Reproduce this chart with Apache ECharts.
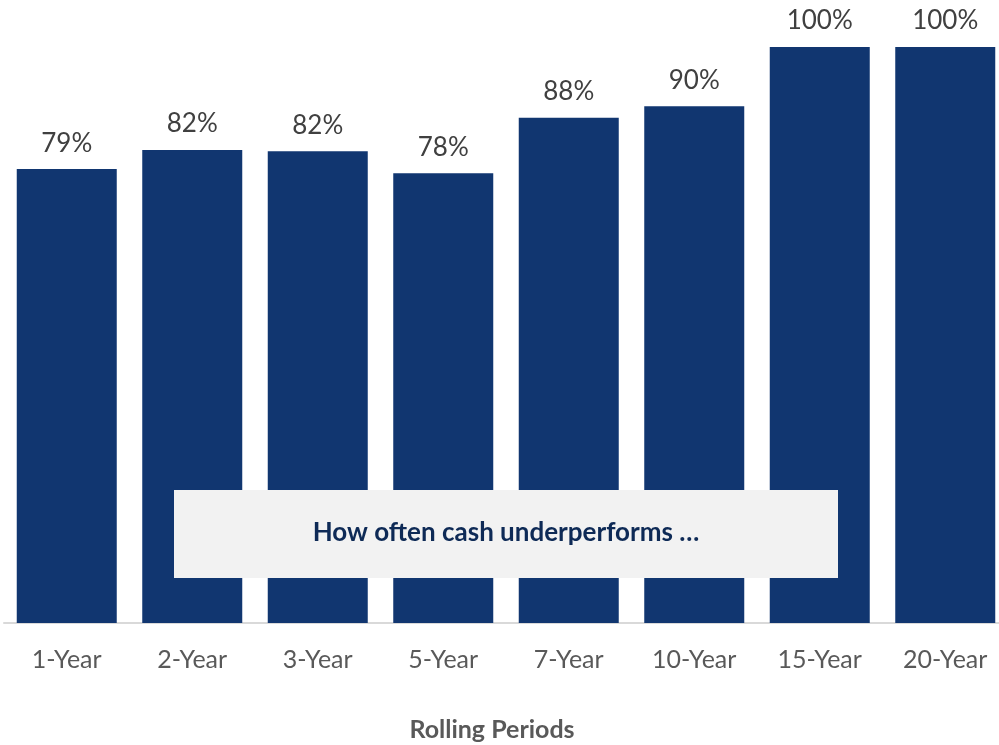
<!DOCTYPE html>
<html><head><meta charset="utf-8">
<script src="https://cdn.jsdelivr.net/npm/echarts@6/dist/echarts.min.js"></script>
<style>html,body{margin:0;padding:0;background:#fff}#c{width:999px;height:745px}</style>
</head><body><div id="c"></div>
<script>
const categories = ['1-Year','2-Year','3-Year','5-Year','7-Year','10-Year','15-Year','20-Year'];
const values = [0.788, 0.821, 0.819, 0.781, 0.877, 0.897, 1.0, 1.0];
const axisTitle = 'Rolling Periods';
const boxText = 'How often cash underperforms …';
const FONT = 'Lato';
const chart = echarts.init(document.getElementById('c'));
chart.setOption({
  animation: false,
  textStyle: {fontFamily: FONT},
  grid: {left: 4, right: -9, top: 47, bottom: 122, outerBoundsMode: 'none', containLabel: false},
  xAxis: {
    type: 'category', data: categories,
    axisLine: {lineStyle: {color: '#d9d9d9', width: 2}},
    axisTick: {show: false},
    axisLabel: {color: '#595959', fontSize: 25, margin: 24, fontFamily: FONT}
  },
  yAxis: {type: 'value', min: 0, max: 1, show: false, splitLine: {show: false}},
  series: [{
    type: 'bar', data: values, barWidth: 100,
    itemStyle: {color: '#113670'},
    label: {show: true, position: 'top', distance: 13, color: '#404040', fontSize: 26, fontFamily: FONT,
      formatter: p => Math.round(p.value * 100) + '%'}
  }],
  graphic: [
    {type: 'rect', left: 174, top: 490, shape: {width: 664, height: 88}, style: {fill: '#f2f2f2'}, z: 10},
    {type: 'text', x: 506, y: 533, style: {text: boxText, fill: '#0e2a56', font: 'bold 26px ' + FONT, textAlign: 'center', textVerticalAlign: 'middle'}, z: 11},
    {type: 'text', x: 492, y: 730, style: {text: axisTitle, fill: '#595959', font: 'bold 25px ' + FONT, textAlign: 'center', textVerticalAlign: 'middle'}, z: 11}
  ]
});
</script></body></html>
